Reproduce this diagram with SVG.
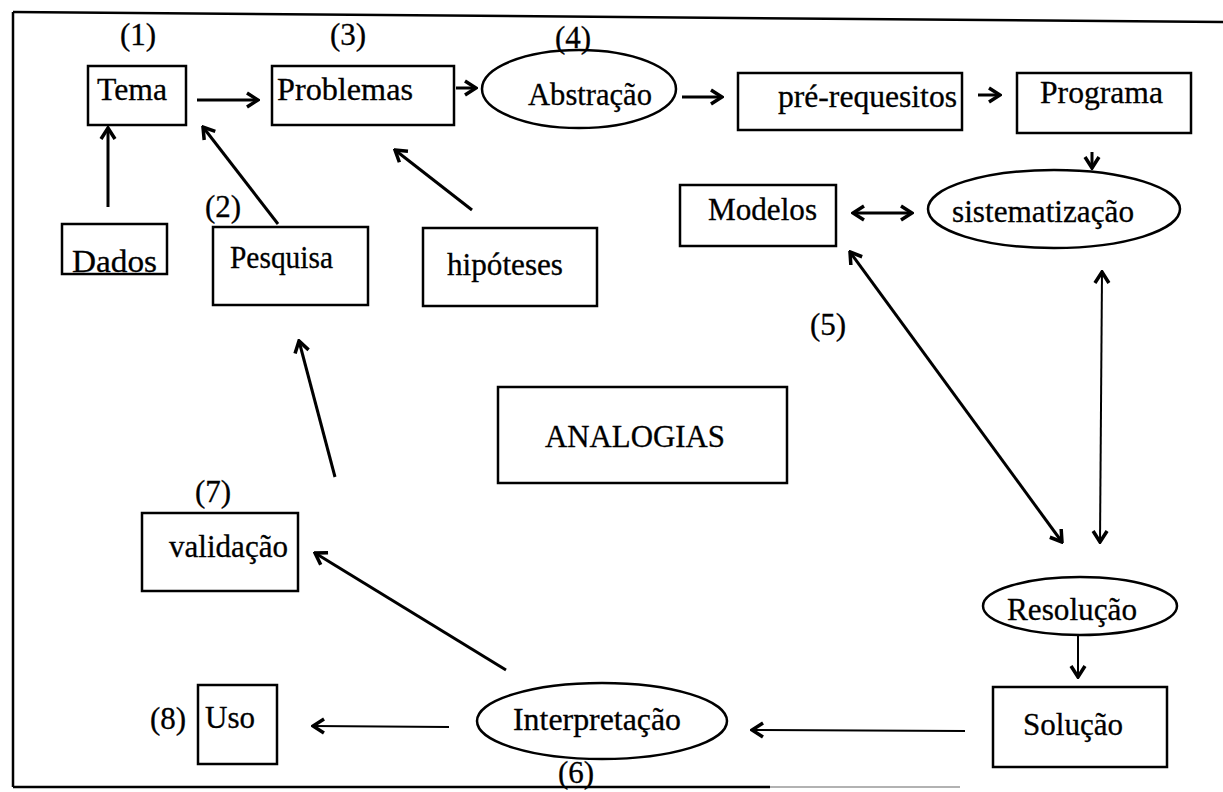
<svg xmlns="http://www.w3.org/2000/svg" width="1223" height="792" viewBox="0 0 1223 792">
<style>
.box{fill:none;stroke:#000;stroke-width:2.5}
.t{font-family:"Liberation Serif","Times New Roman",serif;font-size:31px;fill:#000;stroke:#000;stroke-width:0.3}
.c{fill:none;stroke:#000;stroke-width:3;marker-end:url(#ah)}
.d{fill:none;stroke:#000;stroke-width:3;marker-end:url(#ah);marker-start:url(#ah)}
.thin{stroke-width:2}
.frame{stroke:#000;stroke-width:2.5;fill:none}
</style>
<defs>
<marker id="ah" viewBox="-14 -9 16 18" refX="0" refY="0" markerWidth="16" markerHeight="18" markerUnits="userSpaceOnUse" orient="auto-start-reverse">
<path d="M-11,-7 L0,0 L-11,7" fill="none" stroke="#000" stroke-width="3.5"/>
</marker>
</defs>
<rect width="1223" height="792" fill="#fff"/>
<g id="frame">
<path class="frame" d="M13,12 L1223,22"/>
<path class="frame" d="M13,12 L13,787"/>
<path class="frame" d="M13,787 L770,787"/>
<path d="M770,787 L960,787" stroke="#999" stroke-width="1.5" fill="none"/>
</g>
<g id="connectors">
<path class="c" d="M197,100 L258,100"/>
<path class="c" d="M456,88 L476,88"/>
<path class="c" d="M682,97 L722,97"/>
<path class="c" d="M978,95 L1000,95"/>
<path class="c" d="M1092,152 L1092,168"/>
<path class="d" d="M853,213 L912,213"/>
<path class="c" d="M108,207 L108,128"/>
<path class="c" d="M278,224 L203,127"/>
<path class="c" d="M472,210 L395,150"/>
<path class="d" d="M850,252 L1062,542"/>
<path class="d thin" d="M1102,272 L1100,542"/>
<path class="c thin" d="M1078,635 L1078,677"/>
<path class="c thin" d="M965,731 L752,730"/>
<path class="c thin" d="M449,727 L313,726"/>
<path class="c" d="M506,670 L315,553"/>
<path class="c" d="M335,477 L299,341"/>
</g>
<g id="n-tema"><rect class="box" x="88" y="66" width="98" height="59"/><text class="t" x="97" y="100" textLength="70" lengthAdjust="spacingAndGlyphs">Tema</text></g>
<g id="n-problemas"><rect class="box" x="272" y="66" width="182" height="59"/><text class="t" x="277" y="100" textLength="136" lengthAdjust="spacingAndGlyphs">Problemas</text></g>
<g id="n-abstracao"><ellipse class="box" cx="579" cy="89" rx="97" ry="39"/><text class="t" x="528" y="105" textLength="124" lengthAdjust="spacingAndGlyphs">Abstração</text></g>
<g id="n-prereq"><rect class="box" x="738" y="73" width="224" height="57"/><text class="t" x="778" y="107" textLength="179" lengthAdjust="spacingAndGlyphs">pré-requesitos</text></g>
<g id="n-programa"><rect class="box" x="1017" y="73" width="174" height="60"/><text class="t" x="1040" y="103" textLength="123" lengthAdjust="spacingAndGlyphs">Programa</text></g>
<g id="n-sistematizacao"><ellipse class="box" cx="1054" cy="209" rx="126" ry="39"/><text class="t" x="952" y="222" textLength="182" lengthAdjust="spacingAndGlyphs">sistematização</text></g>
<g id="n-modelos"><rect class="box" x="680" y="185" width="156" height="61"/><text class="t" x="708" y="220" textLength="109" lengthAdjust="spacingAndGlyphs">Modelos</text></g>
<g id="n-dados"><rect class="box" x="62" y="224" width="105" height="50"/><text class="t" x="72" y="272" textLength="85" lengthAdjust="spacingAndGlyphs">Dados</text></g>
<g id="n-pesquisa"><rect class="box" x="213" y="227" width="155" height="78"/><text class="t" x="230" y="268" textLength="103" lengthAdjust="spacingAndGlyphs">Pesquisa</text></g>
<g id="n-hipoteses"><rect class="box" x="423" y="228" width="174" height="78"/><text class="t" x="447" y="275" textLength="116" lengthAdjust="spacingAndGlyphs">hipóteses</text></g>
<g id="n-analogias"><rect class="box" x="498" y="387" width="289" height="96"/><text class="t" x="545" y="447" textLength="180" lengthAdjust="spacingAndGlyphs">ANALOGIAS</text></g>
<g id="n-validacao"><rect class="box" x="142" y="513" width="156" height="78"/><text class="t" x="169" y="557" textLength="119" lengthAdjust="spacingAndGlyphs">validação</text></g>
<g id="n-uso"><rect class="box" x="198" y="685" width="79" height="79"/><text class="t" x="205" y="728" textLength="50" lengthAdjust="spacingAndGlyphs">Uso</text></g>
<g id="n-interpretacao"><ellipse class="box" cx="602" cy="721" rx="125" ry="38"/><text class="t" x="513" y="730" textLength="168" lengthAdjust="spacingAndGlyphs">Interpretação</text></g>
<g id="n-resolucao"><ellipse class="box" cx="1080" cy="606" rx="97" ry="29"/><text class="t" x="1007" y="620" textLength="130" lengthAdjust="spacingAndGlyphs">Resolução</text></g>
<g id="n-solucao"><rect class="box" x="993" y="687" width="174" height="80"/><text class="t" x="1023" y="735" textLength="100" lengthAdjust="spacingAndGlyphs">Solução</text></g>
<g id="labels">
<text class="t" x="120" y="45">(1)</text>
<text class="t" x="205" y="217">(2)</text>
<text class="t" x="330" y="45">(3)</text>
<text class="t" x="555" y="48">(4)</text>
<text class="t" x="810" y="335">(5)</text>
<text class="t" x="558" y="783">(6)</text>
<text class="t" x="195" y="502">(7)</text>
<text class="t" x="150" y="729">(8)</text>
</g>
</svg>
